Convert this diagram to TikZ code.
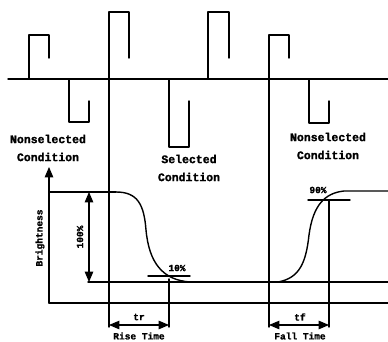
\documentclass[tikz,border=0pt]{standalone}
\usepackage{fontspec}
\newfontfamily\courbold{Liberation Mono}[BoldFeatures={FakeBold=1.5}]
\usetikzlibrary{arrows}

\tikzset{
  isoteksti/.style={font=\courbold\bfseries\fontsize{11.5}{18}\selectfont, align=center, inner sep=0pt},
  pieniteksti/.style={font=\courbold\bfseries\fontsize{9.5}{11}\selectfont, inner sep=0pt},
}

\begin{document}
\begin{tikzpicture}[line cap=round,line join=round,>=triangle 45,x=1pt,y=-1pt,line width=1.4pt]
		\useasboundingbox (0,0) rectangle (388,342);

		%signaali:
		\draw (8,79) -- (388,79);
		%pulssit ylos
		\draw (29,79) -- (29,35) -- (49,35) -- (49,58);
		\draw (109,327) -- (109,12) -- (129,12) -- (129,58);
		\draw (208,79) -- (208,12) -- (229,12) -- (229,58);
		\draw (269,327) -- (269,35) -- (289,35) -- (289,58);
		%pulssit alas
		\draw (69,79) -- (69,122) -- (89,122) -- (89,101);
		\draw (169,79) -- (169,147) -- (189,147) -- (189,101);
		\draw (309,79) -- (309,123) -- (329,123) -- (329,101);

		%tekstit
		\node[isoteksti] (nonselA) at (48,148) {Nonselected\\Condition};
		\node[isoteksti] (sel) at (189,168) {Selected\\Condition};
		\node[isoteksti] (nonselB) at (328,146) {Nonselected\\Condition};

		%akselit
		\draw[->] (49,303) -- (49,167);
		\draw (49,303) -- (388,303);
		\node[pieniteksti, rotate=90] (kirkkaus) at (40,238) {Brightness};

		%tasot
		\draw (49,192) -- (116,192);
		\draw (88,282) -- (388,282);
		\draw[<->] (89,192) -- (89,282);
		\node[pieniteksti, rotate=90] (sata) at (80,237) {100\%};

		% Varsinainen kuva
		\draw (116,192) .. controls (138,192) and (144,205) .. (146,230)
		  .. controls (149,262) and (162,280) .. (190,282);
		\draw (148,276) -- (190,276);
		\node[pieniteksti] (kymmenen) at (177,268) {10\%};

		\draw (278,282) .. controls (300,278) and (306,262) .. (309,235)
		  .. controls (313,205) and (325,193) .. (344,191) -- (388,191);
		\draw (308,200) -- (350,200);
		\node[pieniteksti] (yhdeksan) at (318,190) {90\%};

		%nousuaika
		\draw (169,279) -- (169,327);
		\draw[<->] (109,325) -- (169,325);
		\node[pieniteksti] (tr) at (139,317) {tr};
		\node[pieniteksti] (nousu) at (139,336) {Rise Time};

		%laskuaika
		\draw (329,200) -- (329,327);
		\draw[<->] (269,325) -- (329,325);
		\node[pieniteksti] (tf) at (300,317) {tf};
		\node[pieniteksti] (lasku) at (300,336) {Fall Time};

	\end{tikzpicture}
\end{document}
